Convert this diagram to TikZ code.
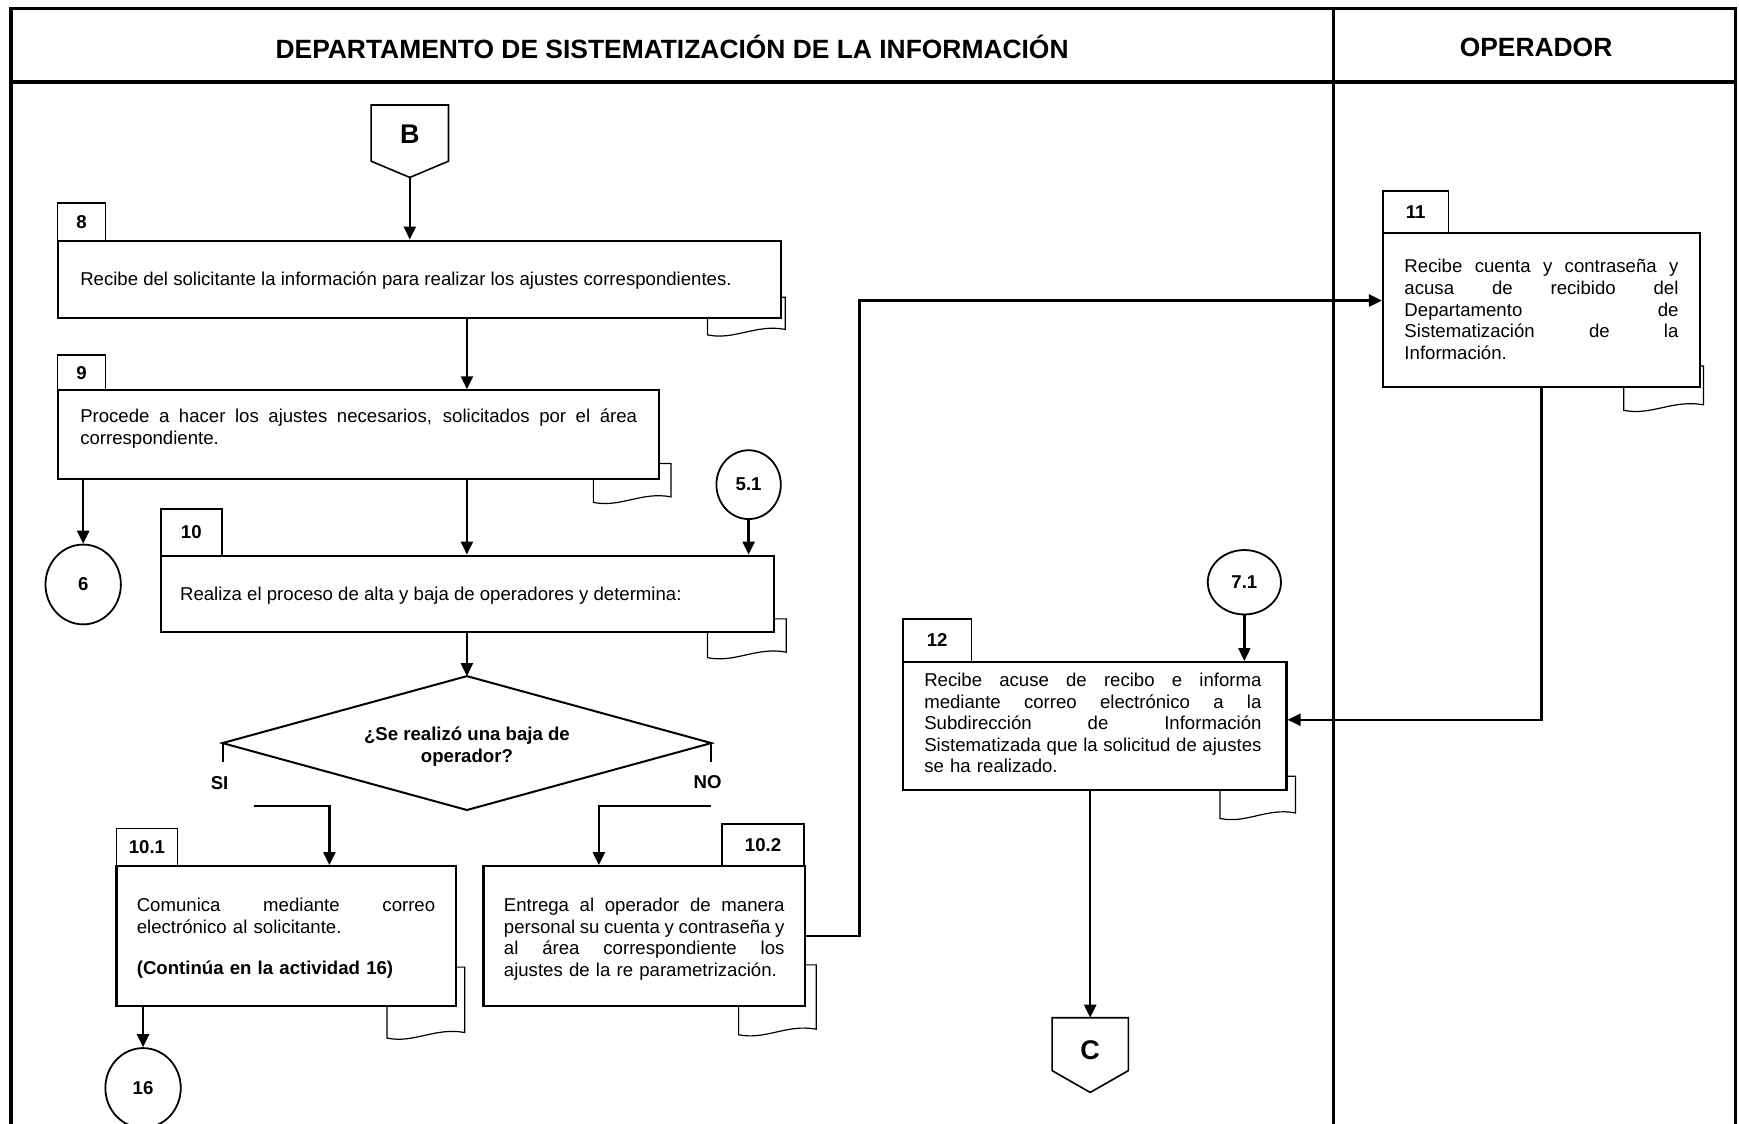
\documentclass[tikz,border=0pt]{standalone}
\usepackage{fontspec}
\setmainfont{Liberation Sans}
\usetikzlibrary{arrows.meta,fit,shapes.geometric}
\hyphenpenalty=10000
\exhyphenpenalty=10000
\hbadness=10000
\hfuzz=5pt
\newcommand\jl[1]{\leavevmode\hbox to \hsize{\spaceskip=0.24em plus 10em\relax #1}}
\newcommand\docicon[4]{%
  \filldraw[doc] (#1,#2) -- (#3,#2) -- (#3,{#4-5}) .. controls ({#1+0.62*(#3-#1)},{#4-10}) and ({#1+0.35*(#3-#1)},{#4+5}) .. (#1,#4) -- cycle;}
\tikzset{
  frame/.style={line width=1.6pt},
  head/.style={inner sep=0pt, font=\bfseries\fontsize{13.2}{15}\selectfont},
  box/.style={draw, line width=1.1pt, fill=white, inner sep=0pt},
  tab/.style={draw, line width=0.8pt, fill=white, inner sep=0pt},
  doc/.style={draw=black, fill=white, line width=0.6pt},
  txt/.style={inner sep=0pt, anchor=base west, align=left, font=\fontsize{9.3}{10.8}\selectfont},
  circ/.style={draw, ellipse, line width=0.9pt, inner sep=0pt, font=\bfseries\fontsize{9.3}{10.8}\selectfont},
  conn/.style={line width=0.8pt},
  lbl/.style={inner sep=0pt, font=\bfseries\fontsize{9.3}{10.8}\selectfont},
  big/.style={inner sep=0pt, font=\bfseries\fontsize{13.5}{15}\selectfont},
  arr/.style={line width=1.2pt, -{Triangle[length=6.5pt,width=6pt]}},
}
\begin{document}
\begin{tikzpicture}[x=0.5545pt,y=-0.5545pt]
\useasboundingbox (0,0) rectangle (1568,1013);
% frame and header
\draw[frame] (10,1030) -- (10,8) -- (1565,8) -- (1565,1030);
\draw[frame] (10,74) -- (1565,74);
\draw[frame] (1202,8) -- (1202,1030);
\node[head] (h1) at (606,42) {DEPARTAMENTO DE SISTEMATIZACIÓN DE LA INFORMACIÓN};
\node[head] (h2) at (1385,43) {OPERADOR};

% B connector
\node[fit={(335,95)(404,145)}, inner sep=0pt] (B) {};
\coordinate (Btip) at (369.5,160);
\draw[conn] (B.north west) -- (B.north east) -- (B.south east) -- (Btip) -- (B.south west) -- cycle;
\node[big] (Bl) at (369.5,121) {B};

% box 8
\docicon{638}{268}{708}{302}
\node[tab, fit={(52,183)(95,217)}] (t8) {};
\node[lbl] (t8l) at (t8.center) {8};
\node[box, fit={(52,217)(704,287)}] (b8) {};
\node[txt] (x8) at (72,257) {Recibe del solicitante la información para realizar los ajustes correspondientes.};

% box 9
\docicon{535}{418}{605}{453}
\node[tab, fit={(52,320)(95,352)}] (t9) {};
\node[lbl] (t9l) at (t9.center) {9};
\node[box, fit={(52,352)(594,432)}] (b9) {};
\node[txt, text width=278.4pt] (x9) at (72,381) {\jl{Procede a hacer los ajustes necesarios, solicitados por el área}\\correspondiente.};

% circle 6
\node[circ, minimum width=37.7pt, minimum height=39.9pt] (c6) at (75,527) {6};
% circle 5.1
\node[circ, minimum width=32.2pt, minimum height=34.4pt] (c51) at (675,437) {5.1};

% box 10
\docicon{638}{558}{709}{593}
\node[tab, fit={(145,459)(200,501)}] (t10) {};
\node[lbl] (t10l) at (t10.center) {10};
\node[box, fit={(145,501)(698,570)}] (b10) {};
\node[txt] (x10) at (162,541) {Realiza el proceso de alta y baja de operadores y determina:};

% decision
\node[fit={(201,610)(641,730)}, inner sep=0pt] (dia) {};
\draw[conn, line width=1pt] (dia.north) -- (dia.east) -- (dia.south) -- (dia.west) -- cycle;
\draw[conn, line width=1pt] (dia.west) -- ++(0,17);
\draw[conn, line width=1pt] (dia.east) -- ++(0,17);
\node[lbl, align=center, font=\bfseries\fontsize{9.3}{11}\selectfont] (dial) at (421,673) {¿Se realizó una baja de\\operador?};
\node[lbl] (si) at (198,706) {SI};
\node[lbl] (no) at (638,705) {NO};

% box 10.1
\docicon{349}{872}{419}{936}
\node[tab, fit={(105,747)(160,781)}] (t101) {};
\node[lbl] (t101l) at (t101.center) {10.1};
\node[box, fit={(105,781)(411,907)}] (b101) {};
\node[txt, text width=149.2pt] (x101) at (123,822) {\jl{Comunica mediante correo}\\electrónico al solicitante.\\[9.7pt]\textbf{(Continúa en la actividad 16)}};

% circle 16
\node[circ, minimum width=37.7pt, minimum height=39.9pt] (c16) at (129,981) {16};

% box 10.2
\docicon{666}{870}{736}{933}
\node[tab, fit={(651,743)(725,781)}] (t102) {};
\node[lbl] (t102l) at (t102.center) {10.2};
\node[box, fit={(436,781)(726,907)}] (b102) {};
\node[txt, text width=140.3pt] (x102) at (454,822) {\jl{Entrega al operador de manera}\\\jl{personal su cuenta y contraseña y}\\\jl{al área correspondiente los}\\ajustes de la re parametrización.};

% box 11
\docicon{1464}{330}{1536}{370}
\node[tab, fit={(1247,172)(1306,210)}] (t11) {};
\node[lbl] (t11l) at (t11.center) {11};
\node[box, fit={(1247,210)(1533,349)}] (b11) {};
\node[txt, text width=137pt] (x11) at (1266,246) {\jl{Recibe cuenta y contraseña y}\\\jl{acusa de recibido del}\\\jl{Departamento de}\\\jl{Sistematización de la}\\Información.};

% circle 7.1
\node[circ, minimum width=36.6pt, minimum height=32.2pt] (c71) at (1122,525) {7.1};

% box 12
\docicon{1100}{700}{1168}{738}
\node[tab, fit={(814,558)(876,597)}] (t12) {};
\node[lbl] (t12l) at (t12.center) {12};
\node[box, fit={(814,597)(1160,712)}] (b12) {};
\node[txt, text width=168.6pt] (x12) at (833,619) {\jl{Recibe acuse de recibo e informa}\\\jl{mediante correo electrónico a la}\\\jl{Subdirección de Información}\\\jl{Sistematizada que la solicitud de ajustes}\\se ha realizado.};

% C connector
\node[fit={(949,918)(1017,965)}, inner sep=0pt] (C) {};
\coordinate (Ctip) at (983,985);
\draw[conn] (C.north west) -- (C.north east) -- (C.south east) -- (Ctip) -- (C.south west) -- cycle;
\node[big] (Cl) at (983,947) {C};

% connectors
\draw[arr] (Btip) -- (Btip |- b8.north);
\draw[arr] (b8.south -| dia.north) -- (b9.north -| dia.north);
\draw[arr] (b9.south -| dia.north) -- (b10.north -| dia.north);
\draw[arr] (c6.north |- b9.south) -- (c6.north);
\draw[arr] (c51.south) -- (c51.south |- b10.north);
\draw[arr] (b10.south -| dia.north) -- (dia.north);
\coordinate (si0) at (229,727);
\coordinate (si1) at (297,727);
\draw[arr] (si0) -- (si1) -- (si1 |- b101.north);
\coordinate (no0) at (641,727);
\coordinate (no1) at (540,727);
\draw[arr] (no0) -- (no1) -- (no1 |- b102.north);
\draw[arr] (c16.north |- b101.south) -- (c16.north);
\coordinate (k1) at (775,271);
\draw[arr] (b102.east) -| (k1) -- (k1 -| b11.west);
\coordinate (m1) at (1390,649);
\draw[arr] (m1 |- b11.south) -- (m1) -- (m1 -| b12.east);
\draw[arr] (c71.south) -- (c71.south |- b12.north);
\draw[arr] (C.north |- b12.south) -- (C.north);
\end{tikzpicture}
\end{document}
